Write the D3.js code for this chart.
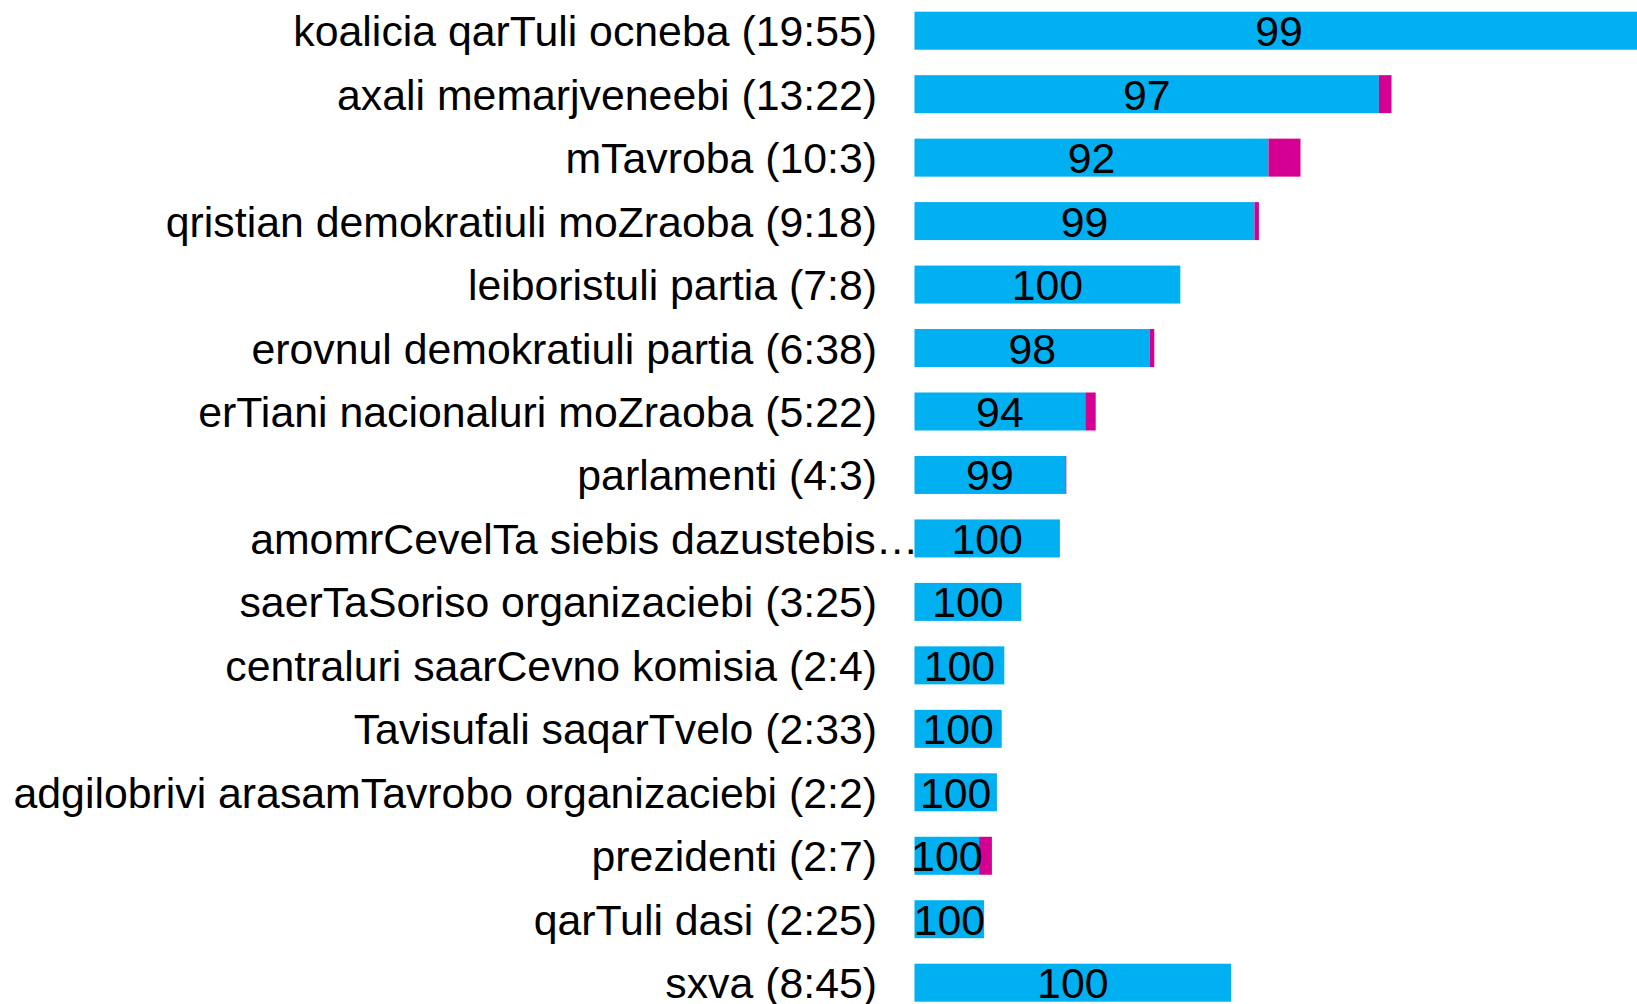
<!DOCTYPE html>
<html>
<head>
<meta charset="utf-8">
<script src="https://cdn.jsdelivr.net/npm/d3@7"></script>
<style>
    body { margin: 0; background: #fff; }
    svg { display: block; font-family: "Liberation Sans", Arial, sans-serif; }
</style>
</head>
<body>
<div id="chart"></div>
<script>
const categories = [
    "koalicia qarTuli ocneba (19:55)",
    "axali memarjveneebi (13:22)",
    "mTavroba (10:3)",
    "qristian demokratiuli moZraoba (9:18)",
    "leiboristuli partia (7:8)",
    "erovnul demokratiuli partia (6:38)",
    "erTiani nacionaluri moZraoba (5:22)",
    "parlamenti (4:3)",
    "amomrCevelTa siebis dazustebis…",
    "saerTaSoriso organizaciebi (3:25)",
    "centraluri saarCevno komisia (2:4)",
    "Tavisufali saqarTvelo (2:33)",
    "adgilobrivi arasamTavrobo organizaciebi (2:2)",
    "prezidenti (2:7)",
    "qarTuli dasi (2:25)",
    "sxva (8:45)"
];

// blue part and magenta part of each bar
const blueValues = [364.5, 232.2, 177, 170, 132.9, 117.7, 85.4, 75.4, 72.7, 53.4, 44.9, 43.6, 41.2, 32.3, 34.8, 158.3];
const pinkValues = [3.5, 6.3, 16, 2.2, 0, 2.2, 5.2, 0.5, 0, 0, 0, 0, 0, 6.4, 0, 0];

// number written in the blue part
const percentLabels = [99, 97, 92, 99, 100, 98, 94, 99, 100, 100, 100, 100, 100, 100, 100, 100];

const width = 1637;
const height = 1004;
const fontSize = 42.8;

const data = categories.map((c, i) => ({
    name: c,
    blue: blueValues[i],
    pink: pinkValues[i],
    pct: percentLabels[i]
}));

const svg = d3.select("#chart").append("svg")
    .attr("width", width)
    .attr("height", height);

const x = d3.scaleLinear()
    .domain([0, d3.max(data, d => d.blue + d.pink)])
    .range([914.5, 1650.5]);

const y = d3.scaleBand()
    .domain(categories)
    .range([11.7, 1001.7])
    .paddingInner(0.4013)
    .paddingOuter(0);

const rows = svg.append("g").selectAll("g")
    .data(data)
    .enter()
    .append("g");

rows.append("rect")
    .attr("x", x(0))
    .attr("y", d => y(d.name))
    .attr("width", d => x(d.blue) - x(0))
    .attr("height", y.bandwidth())
    .attr("fill", "#00b0f0");

rows.filter(d => d.pink > 0)
    .append("rect")
    .attr("x", d => x(d.blue))
    .attr("y", d => y(d.name))
    .attr("width", d => x(d.blue + d.pink) - x(d.blue))
    .attr("height", y.bandwidth())
    .attr("fill", "#d50092");

rows.append("text")
    .attr("x", d => (x(0) + x(d.blue)) / 2)
    .attr("y", d => y(d.name) + y.bandwidth() / 2 + 15.5)
    .attr("text-anchor", "middle")
    .attr("font-size", fontSize)
    .attr("fill", "#000")
    .text(d => d.pct);

// category labels, the cut one runs into the bar
rows.append("text")
    .attr("x", d => d.name.endsWith("…") ? x(0) + 4 : x(0) - 37.5)
    .attr("y", d => y(d.name) + y.bandwidth() / 2 + 15.5)
    .attr("text-anchor", "end")
    .attr("font-size", fontSize)
    .attr("fill", "#000")
    .text(d => d.name);
</script>
</body>
</html>
